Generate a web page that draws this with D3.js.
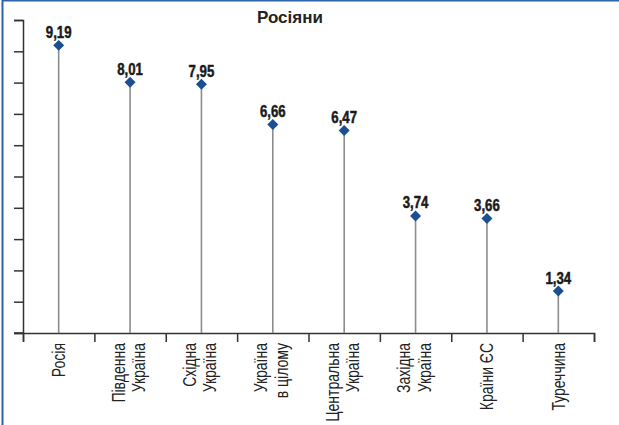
<!DOCTYPE html>
<html>
<head>
<meta charset="utf-8">
<script src="https://cdn.jsdelivr.net/npm/d3@7"></script>
<style>
    body { margin: 0; background: #fff; }
    svg { display: block; }
    text { font-family: "Liberation Sans", Arial, sans-serif; }
</style>
</head>
<body>
<div id="chart"></div>
<script>
let title = "Росіяни";
let categories = ["Росія", "Південна\nУкраїна", "Східна\nУкраїна", "Україна\nв цілому",
    "Центральна\nУкраїна", "Західна\nУкраїна", "Країни ЄС", "Туреччина"];
let values = [9.19, 8.01, 7.95, 6.66, 6.47, 3.74, 3.66, 1.34];
let yTicks = [0, 1, 2, 3, 4, 5, 6, 7, 8, 9, 10];

let width = 619, height = 425;
let plot = {left: 23, right: 594, top: 20, bottom: 333};
// no narrow face installed, so squeeze Liberation Sans instead
let squeeze = 0.8;

let svg = d3.select("#chart").append("svg")
    .attr("width", width)
    .attr("height", height);

// frame: only top and left edges are visible
svg.append("path")
    .attr("d", "M2.5," + height + "V0.5H" + width)
    .style("fill", "none")
    .style("stroke", "#2e62a6")
    .style("stroke-width", 2);

let x = d3.scaleBand()
    .domain(categories)
    .range([plot.left, plot.right]);

let xEdge = d3.scaleLinear()
    .domain([0, categories.length])
    .range([plot.left, plot.right]);

let y = d3.scaleLinear()
    .domain([0, 10])
    .range([plot.bottom, plot.top]);

svg.append("text")
    .attr("x", 290)
    .attr("y", 23)
    .attr("text-anchor", "middle")
    .style("font-weight", "bold")
    .style("font-size", "17px")
    .style("fill", "#222")
    .text(title);

let yAxis = svg.append("g")
    .attr("transform", "translate(" + plot.left + ",0)")
    .call(d3.axisLeft(y).tickValues(yTicks).tickSize(9).tickFormat(""));

let xAxis = svg.append("g")
    .attr("transform", "translate(0," + plot.bottom + ")")
    .call(d3.axisBottom(xEdge).tickValues(d3.range(categories.length + 1)).tickSize(9).tickFormat(""));

svg.append("line")
    .attr("x1", plot.left - 9).attr("x2", plot.left)
    .attr("y1", plot.bottom).attr("y2", plot.bottom)
    .style("stroke", "#333").style("stroke-width", 1.5);

[yAxis, xAxis].forEach(function(g) {
    g.select(".domain").attr("stroke", "#333").attr("stroke-width", 1.5);
    g.selectAll(".tick line").attr("stroke", "#333").attr("stroke-width", 1.5);
});

let cx = function(d, i) { return x(categories[i]) + x.bandwidth() / 2; };

svg.selectAll(".stem")
    .data(values)
    .enter().append("line")
    .attr("class", "stem")
    .attr("x1", cx).attr("x2", cx)
    .attr("y1", y(0))
    .attr("y2", function(d) { return y(d); })
    .style("stroke", "#8c8c8c")
    .style("stroke-width", 1.6);

let diamond = d3.symbol().type(d3.symbolSquare).size(60);

svg.selectAll(".pt")
    .data(values)
    .enter().append("path")
    .attr("class", "pt")
    .attr("d", diamond)
    .attr("transform", function(d, i) { return "translate(" + cx(d, i) + "," + y(d) + ") rotate(45)"; })
    .style("fill", "#1b4f93");

svg.selectAll(".val")
    .data(values)
    .enter().append("text")
    .attr("class", "val")
    .attr("transform", function(d, i) { return "translate(" + cx(d, i) + "," + (y(d) - 7.5) + ") scale(0.8,1)"; })
    .attr("text-anchor", "middle")
    .style("font-weight", "bold")
    .style("font-size", "16.5px")
    .style("fill", "#1a1a1a")
    .style("stroke", "#1a1a1a")
    .style("stroke-width", 0.5)
    .text(function(d) { return d3.format(".2f")(d).replace(".", ","); });

let lbl = svg.selectAll(".lbl")
    .data(categories)
    .enter().append("text")
    .attr("class", "lbl")
    .attr("transform", function(d) { return "translate(" + (x(d) + x.bandwidth() / 2) + ",343) rotate(-90) scale(" + squeeze + ",1)"; })
    .attr("text-anchor", "end")
    .style("font-size", "17.5px")
    .style("fill", "#222");

lbl.each(function(d) {
    let lines = d.split("\n");
    let offs = lines.length == 1 ? [6.5] : [-5.5, 15];
    let t = d3.select(this);
    lines.forEach(function(s, k) {
        t.append("tspan").attr("x", 0).attr("y", offs[k]).text(s);
    });
});
</script>
</body>
</html>
